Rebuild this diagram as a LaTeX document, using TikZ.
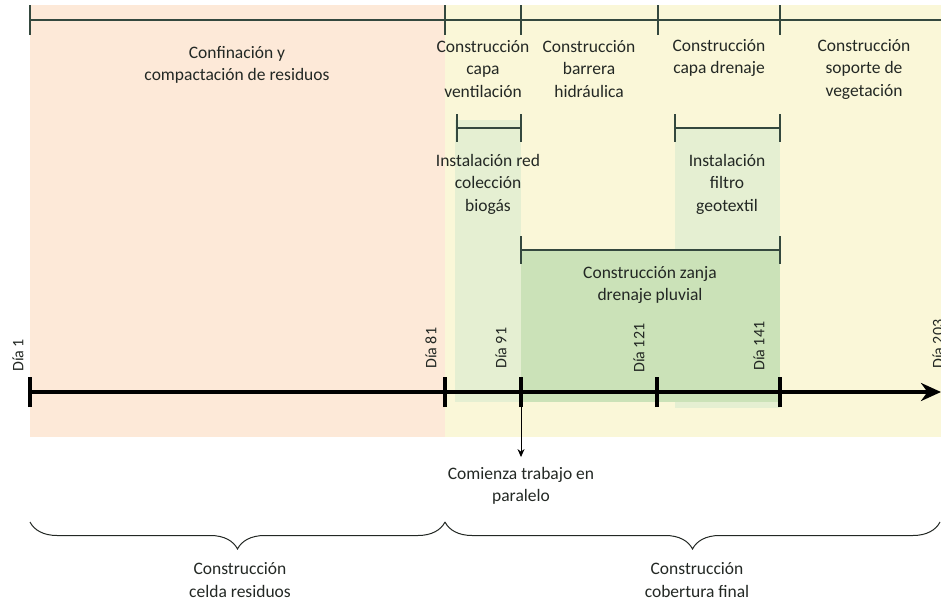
\documentclass[tikz,border=0pt]{standalone}
\usepackage{fontspec}
\setmainfont{Carlito}
\usetikzlibrary{arrows.meta,decorations.pathreplacing}
\definecolor{peach}{RGB}{253,233,216}
\definecolor{paleyellow}{RGB}{250,247,216}
\definecolor{palegreen}{RGB}{229,239,210}
\definecolor{midgreen}{RGB}{203,226,184}
\definecolor{barcol}{RGB}{52,72,62}
\definecolor{txtcol}{RGB}{35,40,36}
\begin{document}
\begin{tikzpicture}[x=1pt,y=-1pt,
  lbl/.style={font=\fontsize{17.5}{22.5}\selectfont, text=txtcol, align=center, inner sep=0pt},
  daylbl/.style={font=\fontsize{16}{18}\selectfont, text=txtcol, rotate=90, anchor=west, inner sep=0pt},
  bar/.style={draw=barcol, line width=1.6pt},
  axis/.style={draw=black, line width=4pt},
  axtick/.style={draw=black, line width=4pt}]
\useasboundingbox (0,0) rectangle (941,601);
% backgrounds
\fill[peach] (30,5) rectangle (445,437);
\fill[paleyellow] (445,5) rectangle (941,437);
\fill[palegreen] (455,120) rectangle (521,402);
\fill[palegreen] (675,128) rectangle (780,408);
\fill[midgreen] (521,250) rectangle (780,402);
% top phase bar
\coordinate (t0) at (30,20);
\coordinate (t1) at (445,20);
\coordinate (t2) at (521,20);
\coordinate (t3) at (658,20);
\coordinate (t4) at (780,20);
\coordinate (tend) at (941,20);
\draw[bar] (t0) -- (tend);
\foreach \c in {t0,t1,t2,t3,t4} \draw[bar] ([yshift=-15pt]\c) -- ([yshift=15pt]\c);
% phase labels
\node[lbl] (confi) at (237,65) {Confinación y\\compactación de residuos};
\node[lbl] (vent) at (483,69) {Construcción\\capa\\ventilación};
\node[lbl] (barr) at (589,69) {Construcción\\barrera\\hidráulica};
\node[lbl] (dren) at (719,58) {Construcción\\capa drenaje};
\node[lbl] (sopo) at (864,69) {Construcción\\soporte de\\vegetación};
% sub-bars
\coordinate (b0) at (457,128);
\coordinate (b1) at (521,128);
\draw[bar] (b0) -- (b1);
\foreach \c in {b0,b1} \draw[bar] ([yshift=-14pt]\c) -- ([yshift=14pt]\c);
\coordinate (f0) at (675,128);
\coordinate (f1) at (780,128);
\draw[bar] (f0) -- (f1);
\foreach \c in {f0,f1} \draw[bar] ([yshift=-14pt]\c) -- ([yshift=14pt]\c);
\coordinate (z0) at (521,250);
\coordinate (z1) at (780,250);
\draw[bar] (z0) -- (z1);
\foreach \c in {z0,z1} \draw[bar] ([yshift=-14pt]\c) -- ([yshift=14pt]\c);
\node[lbl] (biog) at (488,184) {Instalación red\\colección\\biogás};
\node[lbl] (filt) at (727,184) {Instalación\\filtro\\geotextil};
\node[lbl] (zanja) at (650,285) {Construcción zanja\\drenaje pluvial};
% main axis
\coordinate (a0) at (30,392);
\coordinate (a1) at (445,392);
\coordinate (a2) at (521,392);
\coordinate (a3) at (657,392);
\coordinate (a4) at (780,392);
\coordinate (aend) at (941,392);
\draw[axis,-{Stealth[length=20pt,width=18pt]}] (a0) -- (aend);
\foreach \c in {a0,a1,a2,a3,a4} \draw[axtick] ([yshift=-15pt]\c) -- ([yshift=15pt]\c);
\node[daylbl] (d1) at (18,372) {Día 1};
\node[daylbl] (d81) at (431,369) {Día 81};
\node[daylbl] (d91) at (501,369) {Día 91};
\node[daylbl] (d121) at (639,373) {Día 121};
\node[daylbl] (d141) at (759,371) {Día 141};
\node[daylbl] (d203) at (938,369) {Día 203};
% parallel work arrow
\node[lbl] (para) at (521,486) {Comienza trabajo en\\paralelo};
\draw[black, line width=0.9pt, -{Stealth[length=8pt,width=7pt]}] (a2) -- ([yshift=10pt]para.north);
% braces
\coordinate (c0) at (30,522);
\coordinate (c1) at (445,522);
\coordinate (c2) at (941,522);
\draw[txtcol, line width=1pt, decorate, decoration={brace, mirror, amplitude=27pt}] (c0) -- (c1);
\draw[txtcol, line width=1pt, decorate, decoration={brace, mirror, amplitude=27pt}] (c1) -- ([xshift=-1pt]c2);
\node[lbl] (celda) at (240,580) {Construcción\\celda residuos};
\node[lbl] (cober) at (697,580) {Construcción\\cobertura final};
\end{tikzpicture}
\end{document}
